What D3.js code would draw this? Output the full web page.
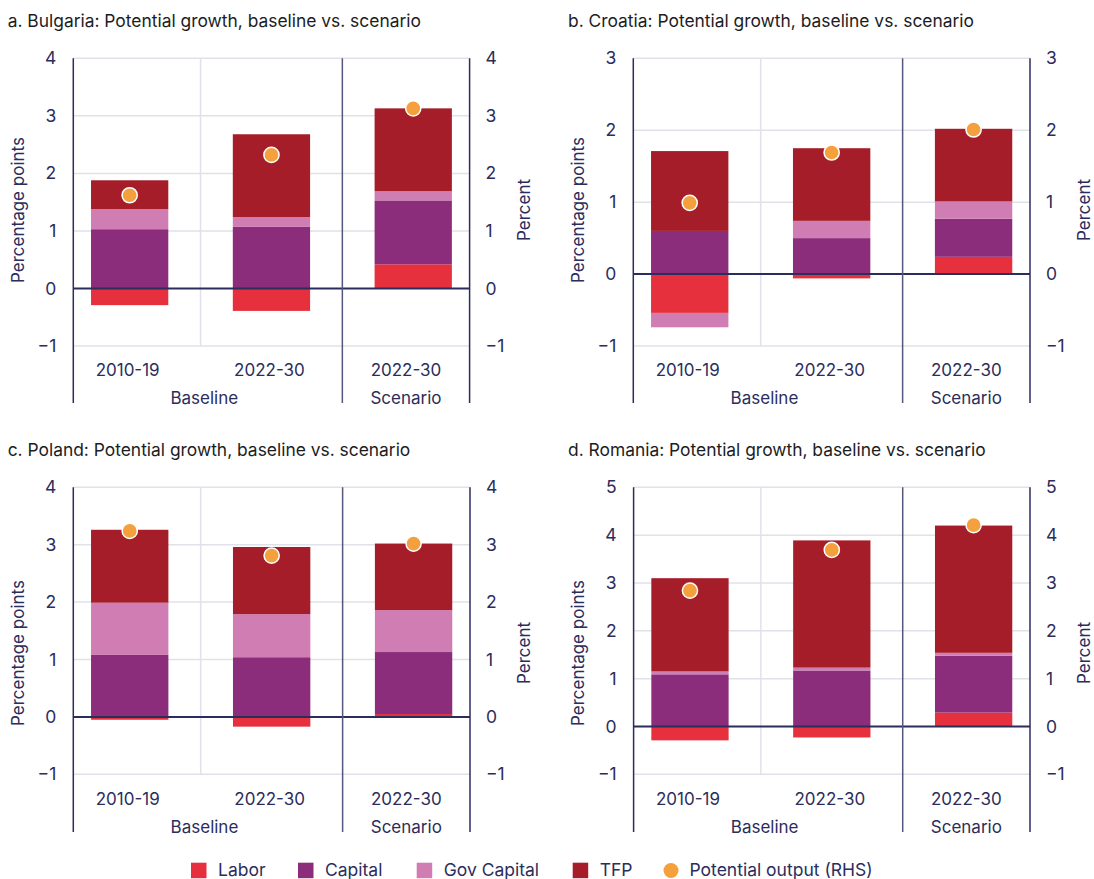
<!DOCTYPE html>
<html><head><meta charset="utf-8">
<script src="https://cdn.jsdelivr.net/npm/d3@7"></script>
<style>
body{margin:0;background:#fff}
svg{display:block}
text{font-family:Inter,"Noto Sans",sans-serif}
</style>
</head><body>
<svg id="chart" width="1094" height="879"></svg>
<script>
// ---------- DATA ----------
const categoryKeys = ["base2010", "base2022", "scen2022"];
const categoryLabels = ["2010-19", "2022-30", "2022-30"];
const groupLabels = ["Baseline", "Scenario"];
const seriesKeys = ["labor", "capital", "gov", "tfp"];
const seriesNames = ["Labor", "Capital", "Gov Capital", "TFP"];
const dotName = "Potential output (RHS)";
const panelTitles = [
  "a. Bulgaria: Potential growth, baseline vs. scenario",
  "b. Croatia: Potential growth, baseline vs. scenario",
  "c. Poland: Potential growth, baseline vs. scenario",
  "d. Romania: Potential growth, baseline vs. scenario"
];
const yMaxes = [4, 3, 4, 5];
const yMin = -1;
const leftAxisTitle = "Percentage points";
const rightAxisTitle = "Percent";

// Bulgaria
const laborBG   = [-0.29, -0.39, 0.42];
const capitalBG = [1.03, 1.07, 1.11];
const govBG     = [0.35, 0.17, 0.16];
const tfpBG     = [0.50, 1.44, 1.44];
const potBG     = [1.62, 2.32, 3.13];
// Croatia
const laborHR   = [-0.54, -0.06, 0.24];
const capitalHR = [0.60, 0.50, 0.53];
const govHR     = [-0.20, 0.24, 0.24];
const tfpHR     = [1.11, 1.01, 1.01];
const potHR     = [0.99, 1.69, 2.01];
// Poland
const laborPL   = [-0.05, -0.17, 0.05];
const capitalPL = [1.08, 1.04, 1.08];
const govPL     = [0.91, 0.75, 0.73];
const tfpPL     = [1.27, 1.17, 1.16];
const potPL     = [3.24, 2.81, 3.02];
// Romania
const laborRO   = [-0.29, -0.23, 0.29];
const capitalRO = [1.09, 1.17, 1.19];
const govRO     = [0.06, 0.06, 0.06];
const tfpRO     = [1.95, 2.66, 2.66];
const potRO     = [2.84, 3.69, 4.21];

// ---------- STYLE / LAYOUT ----------
const colors = {labor:"#e6303e", capital:"#8b2d7b", gov:"#d07db4", tfp:"#a51d29"};
const dotColor = "#f4a13d";
const navy = "#2b2d5c";
const sepColor = "#55577a";
const gridColor = "#e1e1ea";

const panelData = [
  {labor:laborBG, capital:capitalBG, gov:govBG, tfp:tfpBG, pot:potBG},
  {labor:laborHR, capital:capitalHR, gov:govHR, tfp:tfpHR, pot:potHR},
  {labor:laborPL, capital:capitalPL, gov:govPL, tfp:tfpPL, pot:potPL},
  {labor:laborRO, capital:capitalRO, gov:govRO, tfp:tfpRO, pot:potRO}
];
const layout = [
  {L:73.3, R:469.6, titleX:7.7, row:0},
  {L:633.3, R:1030, titleX:568, row:0},
  {L:73.3, R:470, titleX:7.7, row:1},
  {L:633.6, R:1030, titleX:568, row:1}
];
const rows = [
  {top:58.3, yNeg:346, bottom:403, title:26.5, catY:376, grpY:404, axTitleY:210},
  {top:487.3, yNeg:774.3, bottom:832, title:455.5, catY:805, grpY:833, axTitleY:653}
];

const svg = d3.select("#chart");
const fmt = d3.format("d");

panelData.forEach((pd, i) => {
  const lay = layout[i], row = rows[lay.row];
  const g = svg.append("g");
  const x = d3.scaleBand().domain(categoryKeys).range([lay.L, lay.R])
    .paddingInner(0.455).paddingOuter(0.125);
  const y = d3.scaleLinear().domain([yMin, yMaxes[i]]).range([row.yNeg, row.top]);
  const yR = d3.scaleLinear().domain([yMin, yMaxes[i]]).range([row.yNeg, row.top]);
  const cx = k => x(k) + x.bandwidth() / 2;
  const ticks = d3.range(yMin, yMaxes[i] + 1);

  // title
  g.append("text").attr("x", lay.titleX).attr("y", row.title)
    .attr("font-size", 17.4).attr("fill", "#1d1d1f").text(panelTitles[i]);

  // horizontal gridlines
  g.selectAll(".grid").data(ticks.filter(t => t !== 0)).join("line")
    .attr("x1", lay.L).attr("x2", lay.R)
    .attr("y1", d => y(d)).attr("y2", d => y(d))
    .attr("stroke", gridColor).attr("stroke-width", 1.5);

  // light vertical gridline between baseline bars
  const midX = (cx(categoryKeys[0]) + cx(categoryKeys[1])) / 2;
  g.append("line").attr("x1", midX).attr("x2", midX)
    .attr("y1", y(yMaxes[i])).attr("y2", y(yMin))
    .attr("stroke", gridColor).attr("stroke-width", 1.5);

  // stacked bars
  const rowsData = categoryKeys.map((k, j) => {
    const o = {key:k};
    seriesKeys.forEach(s => o[s] = pd[s][j]);
    return o;
  });
  const stack = d3.stack().keys(seriesKeys).offset(d3.stackOffsetDiverging);
  const stacked = stack(rowsData);
  g.selectAll(".series").data(stacked).join("g")
    .attr("fill", d => colors[d.key])
    .selectAll("rect").data(d => d).join("rect")
    .attr("x", d => x(d.data.key))
    .attr("width", x.bandwidth())
    .attr("y", d => y(Math.max(d[0], d[1])))
    .attr("height", d => Math.abs(y(d[0]) - y(d[1])));

  // zero line
  g.append("line").attr("x1", lay.L).attr("x2", lay.R)
    .attr("y1", y(0)).attr("y2", y(0))
    .attr("stroke", navy).attr("stroke-width", 2);

  // axis lines and separator
  const sepX = (cx(categoryKeys[1]) + cx(categoryKeys[2])) / 2;
  [[lay.L, navy], [lay.R, navy], [sepX, sepColor]].forEach(([xx, c]) => {
    g.append("line").attr("x1", xx).attr("x2", xx)
      .attr("y1", row.top).attr("y2", row.bottom)
      .attr("stroke", c).attr("stroke-width", 1.5);
  });

  // dots (RHS)
  g.selectAll(".dot").data(categoryKeys).join("circle")
    .attr("cx", d => cx(d))
    .attr("cy", (d, j) => yR(pd.pot[j]))
    .attr("r", 7.6).attr("fill", dotColor)
    .attr("stroke", "#fff").attr("stroke-width", 1.5);

  // left / right axis labels
  const axL = g.append("g").attr("transform", `translate(${lay.L},0)`)
    .call(d3.axisLeft(y).tickValues(ticks).tickFormat(fmt).tickSize(0).tickPadding(17));
  axL.select(".domain").remove();
  axL.selectAll("text").attr("font-size", 17.5).attr("fill", navy)
    .attr("font-family", "Inter");
  const axR = g.append("g").attr("transform", `translate(${lay.R},0)`)
    .call(d3.axisRight(yR).tickValues(ticks).tickFormat(fmt).tickSize(0).tickPadding(16));
  axR.select(".domain").remove();
  axR.selectAll("text").attr("font-size", 17.5).attr("fill", navy)
    .attr("font-family", "Inter");

  // axis titles
  g.append("text").attr("transform", `translate(${lay.L - 55.8},${row.axTitleY}) rotate(-90)`)
    .attr("text-anchor", "middle").attr("dominant-baseline", "central")
    .attr("font-size", 17).attr("fill", navy).text(leftAxisTitle);
  g.append("text").attr("transform", `translate(${lay.R + 54},${row.axTitleY}) rotate(-90)`)
    .attr("text-anchor", "middle").attr("dominant-baseline", "central")
    .attr("font-size", 17).attr("fill", navy).text(rightAxisTitle);

  // category labels
  const scenCenter = (sepX + lay.R) / 2;
  const baseCenter = (lay.L + sepX) / 2 - 3.5;
  g.selectAll(".cat").data(categoryKeys).join("text")
    .attr("x", (d, j) => j < 2 ? cx(d) - 2 : scenCenter)
    .attr("y", row.catY).attr("text-anchor", "middle")
    .attr("font-size", 17).attr("fill", navy)
    .text((d, j) => categoryLabels[j]);
  g.selectAll(".grp").data(groupLabels).join("text")
    .attr("x", (d, j) => j === 0 ? baseCenter : scenCenter)
    .attr("y", row.grpY).attr("text-anchor", "middle")
    .attr("font-size", 17).attr("fill", navy)
    .text(d => d);
});

// ---------- LEGEND ----------
const legendX = [191, 298, 416.7, 572.7];
const lg = svg.append("g");
seriesKeys.forEach((k, i) => {
  lg.append("rect").attr("x", legendX[i]).attr("y", 862.7)
    .attr("width", 15.5).attr("height", 15.5).attr("fill", colors[k]);
  lg.append("text").attr("x", legendX[i] + 27).attr("y", 875.5)
    .attr("font-size", 17.5).attr("fill", navy).text(seriesNames[i]);
});
lg.append("circle").attr("cx", 671).attr("cy", 870.5).attr("r", 7.5).attr("fill", dotColor);
lg.append("text").attr("x", 689.5).attr("y", 875.5)
  .attr("font-size", 17.5).attr("fill", navy).text(dotName);
</script>
</body></html>
